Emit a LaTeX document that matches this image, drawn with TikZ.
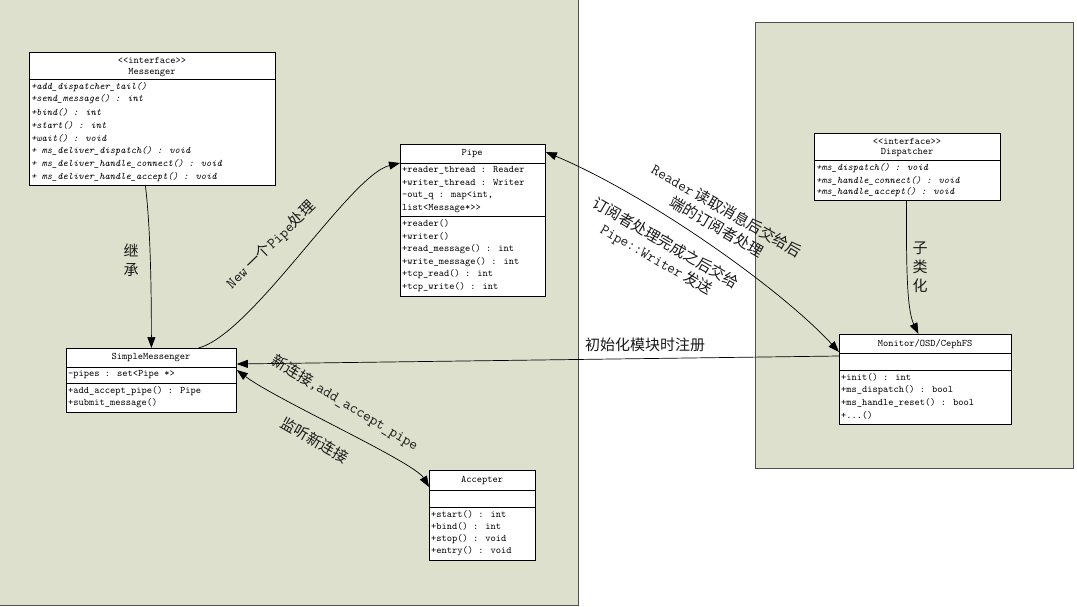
\documentclass[tikz,border=0pt]{standalone}
\usepackage{fontspec}
\newfontfamily\cjk{Noto Sans CJK SC}
\usetikzlibrary{arrows.meta}
\definecolor{pkg}{RGB}{221,224,204}
\definecolor{pkgline}{RGB}{80,80,80}
\begin{document}
\begin{tikzpicture}[x=1pt,y=-1pt,
  panel/.style={fill=pkg,draw=pkgline,line width=0.8pt},
  umlbox/.style={draw=black,fill=white,line width=0.8pt,inner sep=0pt,anchor=north west},
  divider/.style={draw=black,line width=0.8pt},
  member/.style={anchor=west,inner sep=0pt,font=\ttfamily\fontsize{10}{12}\selectfont},
  abstractmember/.style={member,font=\ttfamily\itshape\fontsize{10}{12}\selectfont},
  classname/.style={inner sep=0pt,font=\ttfamily\fontsize{10}{12}\selectfont},
  link/.style={draw=black,line width=0.7pt},
  arrowto/.style={-{Triangle[length=11pt,width=8pt]}},
  arrowboth/.style={{Triangle[length=11pt,width=8pt]}-{Triangle[length=11pt,width=8pt]}},
  zh/.style={inner sep=0pt,text=black!90,font=\cjk\fontsize{15}{19}\selectfont}
]
\useasboundingbox (0,0) rectangle (1077,606);
\fill[white] (0,0) rectangle (1077,606);

% package panels
\fill[pkg] (0,0) rectangle (578,605);
\draw[pkgline,line width=0.8pt] (578,0) -- (578,605) -- (0,605);
\draw[panel] (755,22) rectangle (1073,468);

% Messenger interface
\node[umlbox,minimum width=246pt,minimum height=133pt] (msgr) at (29,52) {};
\node[classname] at (152,60) {<<interface>>};
\node[classname] at (152,72.5) {Messenger};
\draw[divider] (29,79.5) -- (275,79.5);
\node[abstractmember] at (31,86.7) {+add\_dispatcher\_tail()};
\node[abstractmember] at (31,99.6) {+send\_message() : int};
\node[abstractmember] at (31,112.4) {+bind() : int};
\node[abstractmember] at (31,125.3) {+start() : int};
\node[abstractmember] at (31,138.1) {+wait() : void};
\node[abstractmember] at (31,151) {+ ms\_deliver\_dispatch() : void};
\node[abstractmember] at (31,163.8) {+ ms\_deliver\_handle\_connect() : void};
\node[abstractmember] at (31,176.7) {+ ms\_deliver\_handle\_accept() : void};

% Pipe
\node[umlbox,minimum width=145pt,minimum height=152pt] (pipe) at (400,144) {};
\node[classname] at (472,154) {Pipe};
\draw[divider] (400,163.5) -- (545,163.5);
\node[member] at (402,170.7) {+reader\_thread : Reader};
\node[member] at (402,183.3) {+writer\_thread : Writer};
\node[member] at (402,196) {-out\_q : map<int,};
\node[member] at (402,208.3) {list<Message*>>};
\draw[divider] (400,216.5) -- (545,216.5);
\node[member] at (402,223.3) {+reader()};
\node[member] at (402,236) {+writer()};
\node[member] at (402,249) {+read\_message() : int};
\node[member] at (402,262) {+write\_message() : int};
\node[member] at (402,274.5) {+tcp\_read() : int};
\node[member] at (402,287) {+tcp\_write() : int};

% Dispatcher interface
\node[umlbox,minimum width=186pt,minimum height=67pt] (disp) at (814,133) {};
\node[classname] at (907,141) {<<interface>>};
\node[classname] at (907,152.5) {Dispatcher};
\draw[divider] (814,160) -- (1000,160);
\node[abstractmember] at (816,168.5) {+ms\_dispatch() : void};
\node[abstractmember] at (816,180.5) {+ms\_handle\_connect() : void};
\node[abstractmember] at (816,192.5) {+ms\_handle\_accept() : void};

% SimpleMessenger
\node[umlbox,minimum width=170pt,minimum height=64pt] (sm) at (66,348) {};
\node[classname] at (151,357.5) {SimpleMessenger};
\draw[divider] (66,367.5) -- (236,367.5);
\node[member] at (68,374.5) {-pipes : set<Pipe *>};
\draw[divider] (66,383) -- (236,383);
\node[member] at (68,391.5) {+add\_accept\_pipe() : Pipe};
\node[member] at (68,403) {+submit\_message()};

% Accepter
\node[umlbox,minimum width=106pt,minimum height=90pt] (acc) at (429,470) {};
\node[classname] at (482,480) {Accepter};
\draw[divider] (429,490) -- (535,490);
\draw[divider] (429,507) -- (535,507);
\node[member] at (431,514.5) {+start() : int};
\node[member] at (431,526.8) {+bind() : int};
\node[member] at (431,539) {+stop() : void};
\node[member] at (431,551.5) {+entry() : void};

% Monitor/OSD/CephFS
\node[umlbox,minimum width=172pt,minimum height=90pt] (mon) at (839,334) {};
\node[classname] at (925,344) {Monitor/OSD/CephFS};
\draw[divider] (839,353.5) -- (1011,353.5);
\draw[divider] (839,370) -- (1011,370);
\node[member] at (841,377) {+init() : int};
\node[member] at (841,389.8) {+ms\_dispatch() : bool};
\node[member] at (841,402.5) {+ms\_handle\_reset() : bool};
\node[member] at (841,415) {+...()};

% connectors
\draw[link,arrowto] ([xshift=-7pt]msgr.south) .. controls +(5,40) and +(0,-60) .. (sm.north);
\draw[link,arrowto] ([xshift=47pt]sm.north) .. controls +(54,-14) and +(-50,12) .. ([yshift=-19pt]pipe.north west);
\draw[link,arrowboth] ([yshift=-8pt]pipe.north east) .. controls +(100,42) and +(-60,-65) .. ([yshift=-18pt]mon.north west);
\draw[link,arrowto] ([yshift=-22pt]mon.north west) -- ([yshift=-16pt]sm.north east);
\draw[link,arrowboth] ([yshift=-17pt]acc.north west) .. controls +(-15,-25) and +(40,30) .. ([yshift=-22pt]sm.north east);
\draw[link,arrowto] ([xshift=-1pt]disp.south) .. controls +(0,60) and +(-12,-25) .. ([xshift=-7pt]mon.north);

% connector labels
\node[zh,align=center] (inherit) at (131,260) {继\\承};
\node[zh,rotate=44] (newpipe) at (271,245) {{\ttfamily New} 一个{\ttfamily Pipe}处理};
\node[zh,rotate=-30,align=center] (readerlbl) at (722,218.5) {{\ttfamily Reader} 读取消息后交给后\\端的订阅者处理};
\node[zh,rotate=-30,align=center] (writerlbl) at (661,251.5) {订阅者处理完成之后交给\\{\ttfamily Pipe::Writer} 发送};
\node[zh] (register) at (645,345) {初始化模块时注册};
\node[zh,rotate=-31] (newconn) at (345,403) {新连接{\ttfamily ,add\_accept\_pipe}};
\node[zh,rotate=-30] (listen) at (315,440) {监听新连接};
\node[zh,align=center] (subclass) at (920,267) {子\\类\\化};
\end{tikzpicture}
\end{document}
